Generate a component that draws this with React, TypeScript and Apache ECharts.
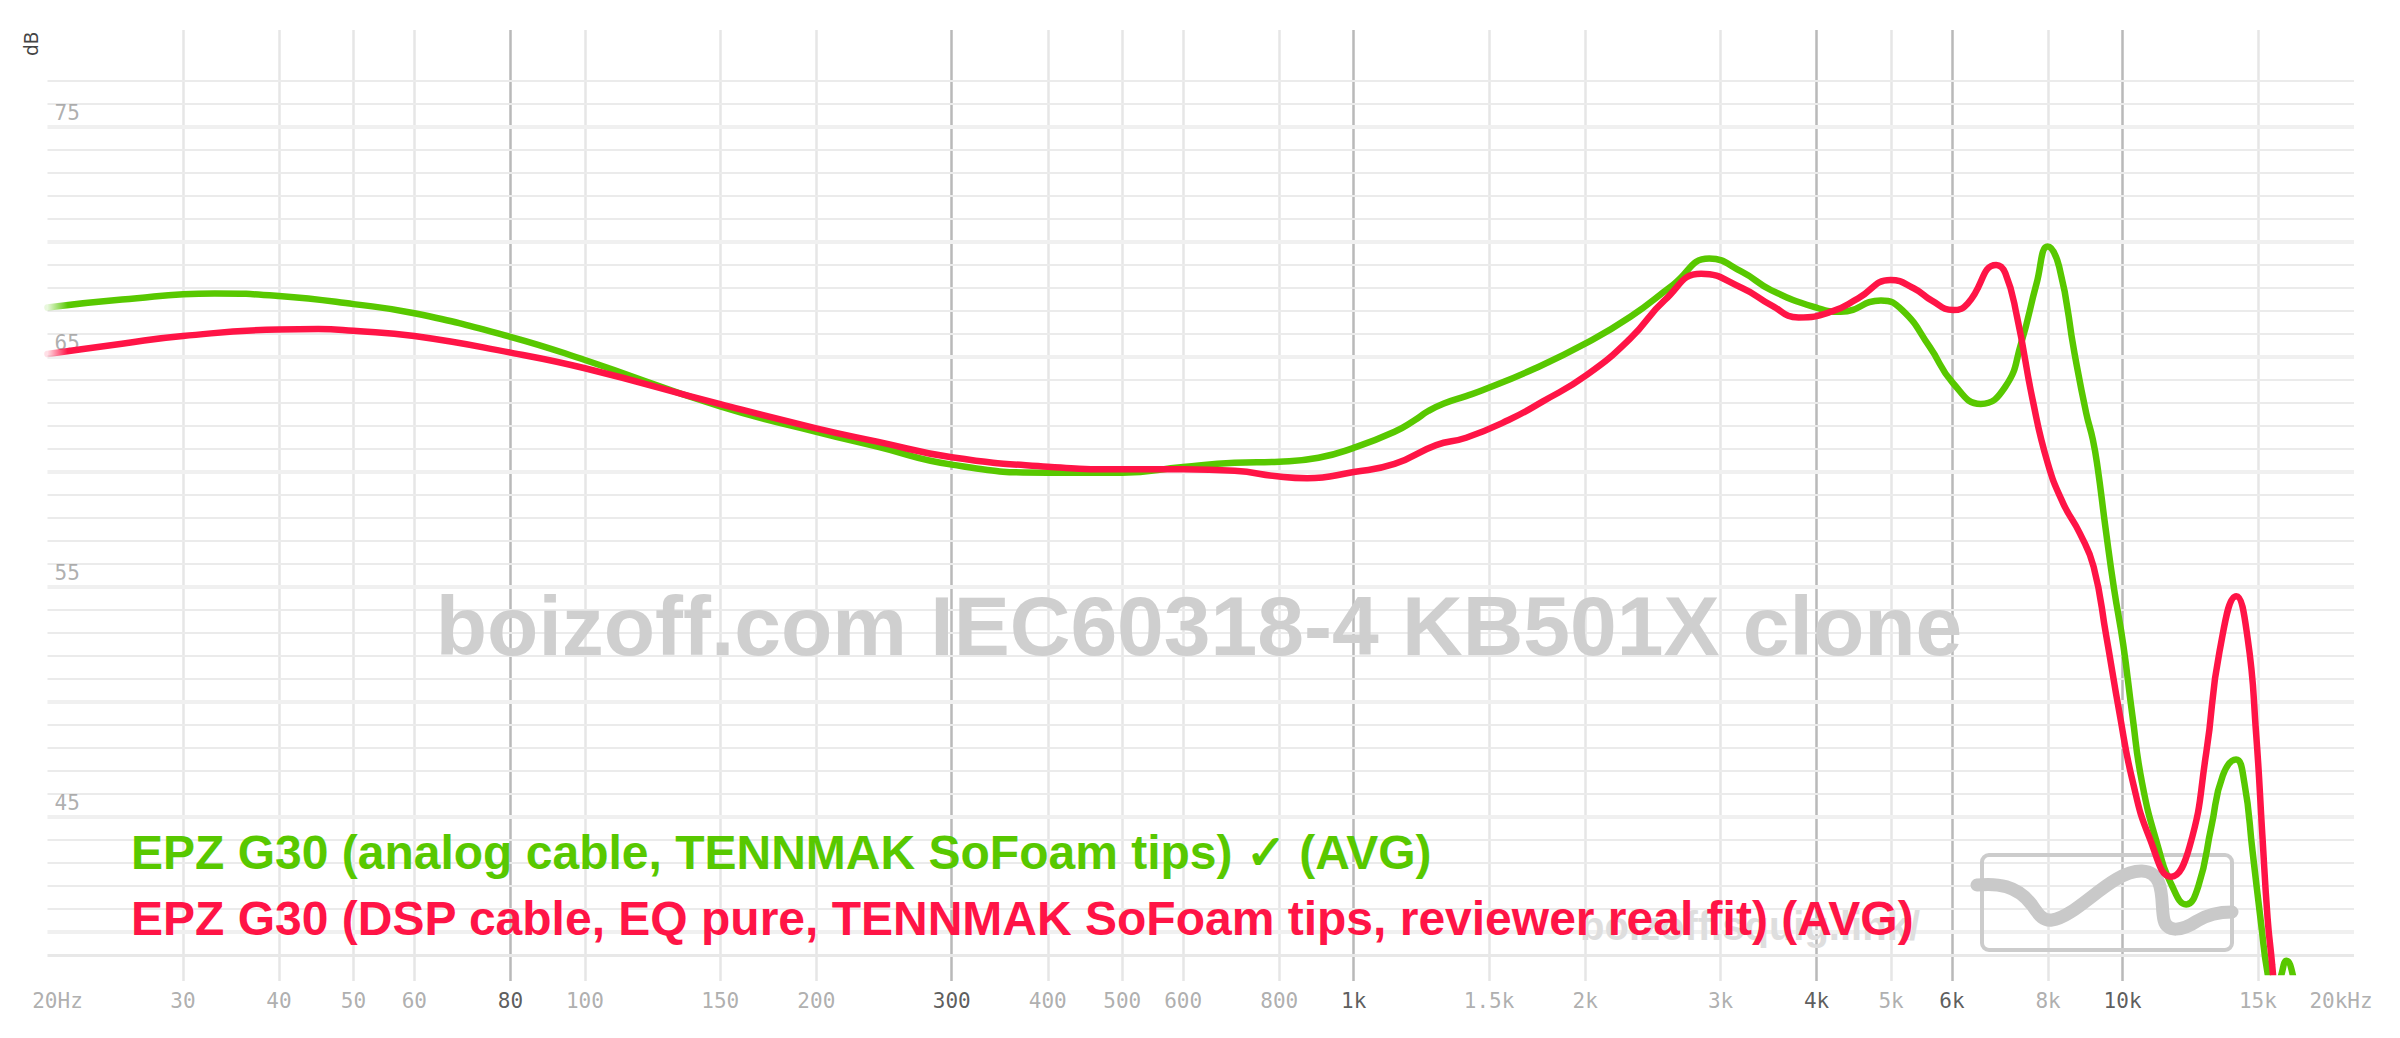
import React, { useEffect, useRef } from "react";
import * as echarts from "echarts";

// ---- data: [frequency Hz, level dB] ----
const analogCurve: [number, number][] = [
  [20, 67.15], [25, 67.5], [33, 67.76], [40, 67.65], [50, 67.3], [60, 66.9],
  [80, 65.88], [100, 64.87], [150, 62.85], [200, 61.75], [240, 61.1], [300, 60.32],
  [400, 59.97], [500, 59.97], [600, 60.22], [700, 60.4], [800, 60.45], [900, 60.62],
  [1000, 61.05], [1130, 61.75], [1200, 62.25], [1250, 62.65], [1310, 62.98], [1400, 63.3],
  [1470, 63.55], [1720, 64.5], [2000, 65.58], [2290, 66.75], [2600, 68.13], [2900, 69.28],
  [3200, 68.7], [3490, 67.91], [4020, 67.12], [4300, 66.97], [4850, 67.46], [5170, 67.04],
  [5610, 65.45], [6020, 63.86], [6540, 62.96], [7040, 63.71], [7380, 65.59], [7730, 68.2],
  [7990, 69.8], [8270, 68.93], [8660, 65.16], [8970, 62.55], [9150, 61.4], [9280, 60.2],
  [9500, 57.6], [9750, 54.9], [10020, 52.5], [10300, 49.4], [10600, 46.5], [11100, 43.8],
  [11600, 42.0], [12100, 41.2], [12550, 42.0], [13050, 44.6], [13500, 46.8], [14050, 47.5],
  [14400, 46.5], [14760, 43.5], [15150, 40.3], [15440, 38.2], [15700, 37.4], [16000, 37.9],
  [16340, 38.75], [16740, 37.8], [17000, 36.5],
];

const dspCurve: [number, number][] = [
  [20, 65.13], [25, 65.58], [30, 65.91], [40, 66.2], [45, 66.22], [50, 66.14], [60, 65.91],
  [80, 65.19], [100, 64.51], [150, 62.95], [200, 61.9], [240, 61.32], [300, 60.64],
  [400, 60.23], [500, 60.12], [600, 60.12], [700, 60.05], [800, 59.8], [870, 59.73],
  [1000, 60.0], [1130, 60.35], [1280, 61.17], [1400, 61.49], [1590, 62.26], [1760, 63.06],
  [2010, 64.22], [2290, 65.81], [2540, 67.48], [2830, 68.62], [3200, 68.0],
  [3490, 67.26], [3790, 66.72], [4180, 66.97], [4530, 67.55], [4990, 68.35], [5350, 67.99],
  [5650, 67.45], [6020, 67.04], [6290, 67.33], [6850, 69.0], [7040, 68.64], [7290, 66.75], [7640, 63.13],
  [7990, 60.4], [8370, 58.64], [8800, 57.33], [9170, 55.88], [9520, 52.9], [9910, 49.5],
  [10300, 46.6], [10840, 44.1], [11570, 42.4], [12220, 43.7], [12850, 47.8], [13370, 52.2],
  [14060, 54.6], [14540, 52.8], [14920, 48.6], [15200, 44.2], [15440, 40.6], [15650, 38.6],
  [16000, 35.0],
];

const xTickFreqs = [20, 30, 40, 50, 60, 80, 100, 150, 200, 300, 400, 500, 600, 800, 1000, 1500, 2000, 3000, 4000, 5000, 6000, 8000, 10000, 15000, 20000];
const xTickLabels = ["20Hz", "30", "40", "50", "60", "80", "100", "150", "200", "300", "400", "500", "600", "800", "1k", "1.5k", "2k", "3k", "4k", "5k", "6k", "8k", "10k", "15k", "20kHz"];
const xMajorFreqs = [80, 300, 1000, 4000, 6000, 10000];
const xNoLineFreqs = [20, 20000];
const yTickLabels = [45, 55, 65, 75];
const yGridFrom = 39;
const yGridTo = 77;

const seriesNames = [
  "EPZ G30 (analog cable, TENNMAK SoFoam tips) \u2713 (AVG)",
  "EPZ G30 (DSP cable, EQ pure, TENNMAK SoFoam tips, reviewer real fit) (AVG)",
];
const watermarkText = "boizoff.com IEC60318-4 KB501X clone";
const siteText = "boizoff.squig.link/";

const GREEN = "#58c800";
const RED = "#ff1446";

const squigPath =
  "M -5 30 C 15 28, 35 30, 50 50 C 58 62, 62 66, 70 65 C 95 62, 130 15, 160 16 C 185 17, 178 50, 182 65 C 185 78, 200 76, 215 66 C 228 58, 240 57, 250 57";
echarts.graphic.registerShape("squiglogo", echarts.graphic.extendPath(squigPath, {}));

function buildOption() {
  const H = 1038;
  const left = 47.5;
  const right = 46;
  const curveTop = 81;
  const curveBottomPx = 972;
  const pxPerDb = 23;
  const yMax = 77;
  const yMin = yMax - (curveBottomPx - curveTop) / pxPerDb;

  const dbLines: number[] = [];
  for (let v = yGridFrom; v <= yGridTo; v++) dbLines.push(v);

  const fade = (c: string) =>
    new echarts.graphic.LinearGradient(0, 0, 1, 0, [
      { offset: 0, color: c + "22" },
      { offset: 0.009, color: c },
      { offset: 1, color: c },
    ]);

  const mono = '"DejaVu Sans Mono", "Liberation Mono", monospace';
  const bold = '"Liberation Sans", Arial, sans-serif';

  return {
    animation: false,
    backgroundColor: "#ffffff",
    grid: [
      { left, right, top: curveTop, bottom: H - curveBottomPx },
      { left, right, top: 30, bottom: H - 981 },
    ],
    xAxis: [
      { type: "log", logBase: 10, min: 20, max: 20000, gridIndex: 0, show: false },
      { type: "log", logBase: 10, min: 20, max: 20000, gridIndex: 1, show: false },
    ],
    yAxis: [
      { type: "value", min: yMin, max: yMax, gridIndex: 0, show: false },
      { type: "value", min: 0, max: 1, gridIndex: 1, show: false },
    ],
    series: [
      {
        type: "line",
        xAxisIndex: 1,
        yAxisIndex: 1,
        data: [],
        silent: true,
        z: 1,
        markLine: {
          silent: true,
          symbol: "none",
          z: 1,
          label: { show: false },
          emphasis: { disabled: true },
          data: xTickFreqs
            .filter((f) => !xNoLineFreqs.includes(f))
            .map((f) => ({
              xAxis: f,
              lineStyle: {
                type: "solid",
                width: 2.5,
                color: xMajorFreqs.includes(f) ? "#b9b9b9" : "#e6e6e6",
              },
            })),
        },
      },
      {
        type: "line",
        xAxisIndex: 0,
        yAxisIndex: 0,
        data: [],
        silent: true,
        z: 1,
        markLine: {
          silent: true,
          symbol: "none",
          z: 1,
          label: { show: false },
          emphasis: { disabled: true },
          data: dbLines.map((v) => ({
            yAxis: v,
            lineStyle: {
              type: "solid",
              width: v === yGridFrom ? 3 : v % 5 === 0 ? 4 : 2.2,
              color: v === yGridFrom ? "#e8e8e8" : v % 5 === 0 ? "#f0f0f0" : "#ebebeb",
            },
          })),
        },
      },
      {
        type: "scatter",
        xAxisIndex: 1,
        yAxisIndex: 1,
        silent: true,
        clip: false,
        symbolSize: 2,
        itemStyle: { color: "rgba(0,0,0,0)" },
        z: 4,
        data: xTickFreqs.map((f, i) => ({
          value: [f, 0],
          label: {
            show: true,
            position: "bottom",
            distance: 7,
            formatter: xTickLabels[i],
            fontFamily: mono,
            fontSize: 21,
            lineHeight: 24,
            color: xMajorFreqs.includes(f) ? "#333333" : "#9a9a9a",
            offset: f === 20 ? [10, 0] : f === 20000 ? [-13, 0] : [0, 0],
          },
        })),
      },
      {
        type: "scatter",
        xAxisIndex: 0,
        yAxisIndex: 0,
        silent: true,
        clip: false,
        symbolSize: 2,
        itemStyle: { color: "rgba(0,0,0,0)" },
        z: 4,
        data: yTickLabels.map((v) => ({
          value: [20, v],
          label: {
            show: true,
            position: "right",
            distance: 6,
            formatter: String(v),
            fontFamily: mono,
            fontSize: 21,
            color: "#9a9a9a",
            offset: [0, -14],
          },
        })),
      },
      {
        name: seriesNames[0],
        type: "line",
        xAxisIndex: 0,
        yAxisIndex: 0,
        data: analogCurve,
        showSymbol: false,
        smooth: 0.5,
        clip: true,
        silent: true,
        z: 5,
        lineStyle: { width: 6.5, color: fade(GREEN), cap: "round", join: "round" },
        itemStyle: { color: GREEN },
      },
      {
        name: seriesNames[1],
        type: "line",
        xAxisIndex: 0,
        yAxisIndex: 0,
        data: dspCurve,
        showSymbol: false,
        smooth: 0.5,
        clip: true,
        silent: true,
        z: 6,
        lineStyle: { width: 6.5, color: fade(RED), cap: "round", join: "round" },
        itemStyle: { color: RED },
      },
    ],
    graphic: [
      {
        type: "text",
        x: 31,
        y: 44,
        rotation: Math.PI / 2,
        z: 3,
        style: {
          text: "dB",
          fill: "#444444",
          font: '19px "Noto Sans", sans-serif',
          textAlign: "center",
          textVerticalAlign: "middle",
          align: "center",
          verticalAlign: "middle",
        },
      },
      {
        type: "text",
        x: 1199,
        y: 626,
        z: 3,
        silent: true,
        style: {
          text: watermarkText,
          fill: "#cfcfcf",
          font: "bold 84px " + bold,
          textAlign: "center",
          textVerticalAlign: "middle",
          align: "center",
          verticalAlign: "middle",
        },
      },
      {
        type: "rect",
        z: 3,
        silent: true,
        shape: { x: 1982, y: 855, width: 250, height: 95, r: 7 },
        style: { fill: "none", stroke: "#cccccc", lineWidth: 4 },
      },
      {
        type: "squiglogo",
        x: 1982,
        y: 855,
        z: 3,
        silent: true,
        style: { fill: "none", stroke: "#c9c9c9", lineWidth: 13, lineCap: "round", lineJoin: "round" },
      },
      {
        type: "text",
        x: 1920,
        y: 926,
        z: 3,
        silent: true,
        style: {
          text: siteText,
          fill: "#dedede",
          font: "bold 40px " + bold,
          textAlign: "right",
          textVerticalAlign: "middle",
          align: "right",
          verticalAlign: "middle",
        },
      },
      {
        type: "text",
        x: 131,
        y: 852,
        z: 10,
        silent: true,
        style: {
          text: seriesNames[0],
          fill: GREEN,
          font: "bold 48px " + bold,
          textVerticalAlign: "middle",
          verticalAlign: "middle",
        },
      },
      {
        type: "text",
        x: 131,
        y: 918,
        z: 10,
        silent: true,
        style: {
          text: seriesNames[1],
          fill: RED,
          font: "bold 48px " + bold,
          textVerticalAlign: "middle",
          verticalAlign: "middle",
        },
      },
    ],
  };
}

export default function App() {
  const ref = useRef<HTMLDivElement | null>(null);
  useEffect(() => {
    if (!ref.current) return;
    const chart = echarts.init(ref.current, null, { renderer: "svg" });
    chart.setOption(buildOption() as any);
    return () => chart.dispose();
  }, []);
  return (
    <div
      ref={ref}
      style={{ position: "absolute", left: 0, top: 0, width: 2400, height: 1038, background: "#fff" }}
    />
  );
}
